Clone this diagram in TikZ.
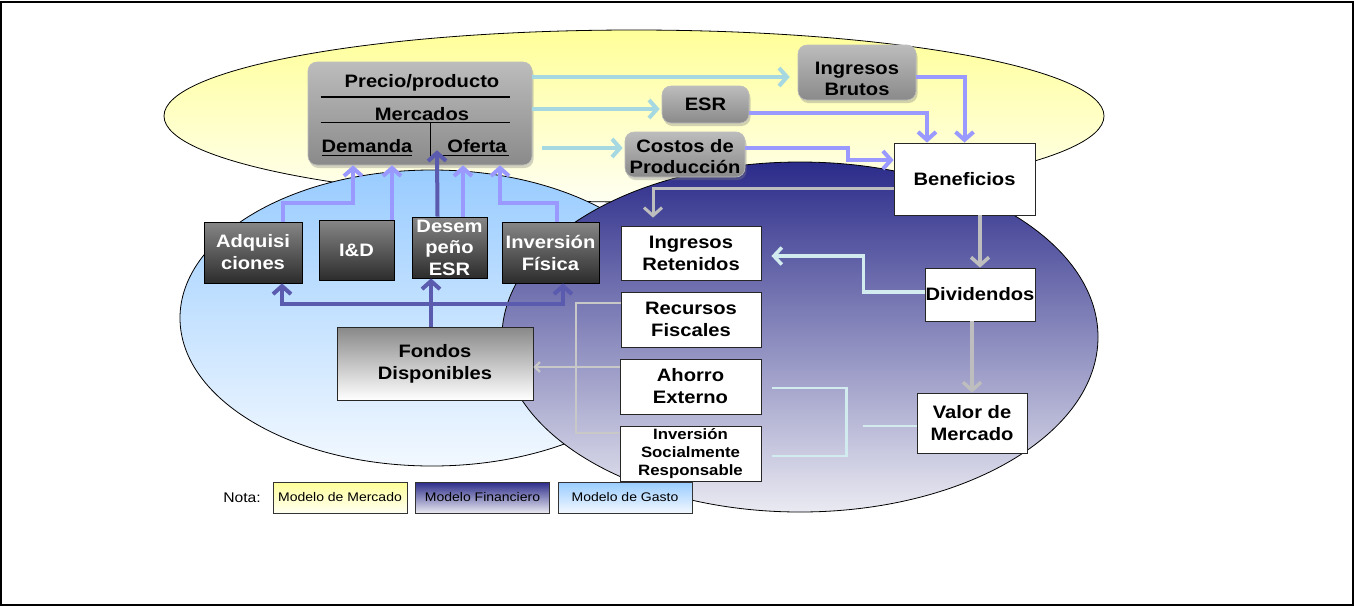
\documentclass[tikz,border=0pt]{standalone}
\usepackage{fontspec}
\setmainfont{Liberation Sans}[FakeStretch=1.12]
\usetikzlibrary{arrows.meta,calc,shadows}

\definecolor{yelTop}{HTML}{FFFF99}
\definecolor{yelBot}{HTML}{FFFFF2}
\definecolor{skyTop}{HTML}{99CCFF}
\definecolor{skyBot}{HTML}{F2F8FF}
\definecolor{navyTop}{HTML}{2B2B8A}
\definecolor{navyBot}{HTML}{EAEAF2}
\definecolor{glossTop}{HTML}{BCBCBC}
\definecolor{glossBot}{HTML}{8A8A8A}
\definecolor{darkTop}{HTML}{868686}
\definecolor{darkBot}{HTML}{2C2C2C}
\definecolor{fondTop}{HTML}{888888}
\definecolor{cyanLine}{HTML}{A6D8E2}
\definecolor{lilacLine}{HTML}{9999FF}
\definecolor{indigoLine}{HTML}{5A5AAE}
\definecolor{greyLine}{HTML}{BEBEBE}
\definecolor{paleLine}{HTML}{D2EBEE}

\begin{document}
\begin{tikzpicture}[x=1pt,y=-1pt,
  txt/.style={font=\bfseries\fontsize{18}{22}\selectfont, align=center, inner sep=0pt},
  glossbox/.style={txt, rounded corners=9pt, top color=glossTop, bottom color=glossBot,
    draw=glossTop, line width=0.6pt,
    drop shadow={opacity=0.35, shadow xshift=1.5pt, shadow yshift=-3pt}},
  darkbox/.style={txt, top color=darkTop, bottom color=darkBot, draw=black,
    line width=0.8pt, text=white},
  whitebox/.style={txt, fill=white, draw=black!85, line width=0.8pt,
    drop shadow={opacity=0.3, shadow xshift=1.2pt, shadow yshift=-1.2pt}},
  legendbox/.style={font=\fontsize{12.5}{15}\selectfont, inner sep=0pt, draw=black!80,
    line width=0.6pt, minimum width=134pt, minimum height=31pt},
  cyanarr/.style={draw=cyanLine, line width=4pt, -{Straight Barb[length=8pt,width=18pt]}},
  lilacarr/.style={draw=lilacLine, line width=4pt, -{Straight Barb[length=8pt,width=18pt]}},
  indigoarr/.style={draw=indigoLine, line width=4pt, -{Straight Barb[length=8pt,width=18pt]}},
  greyarr/.style={draw=greyLine, line width=3.5pt, -{Straight Barb[length=8pt,width=18pt]}},
  greyln/.style={draw=greyLine!85, line width=2.2pt},
  palearr/.style={draw=paleLine, line width=3.5pt, -{Straight Barb[length=8pt,width=17pt]}},
  paleln/.style={draw=paleLine, line width=2.8pt}
]
\useasboundingbox (0,0) rectangle (1354,606);
\fill[white] (0,0) rectangle (1354,606);
\draw[black, line width=2pt] (1,1.5) rectangle (1353,605);

% the three model regions
\draw[black, line width=0.8pt, top color=yelTop, bottom color=yelBot]
  (634,116) ellipse [x radius=470pt, y radius=86pt];
\draw[black, line width=0.8pt, top color=skyTop, bottom color=skyBot]
  (432,318) ellipse [x radius=252pt, y radius=148pt];
\draw[black, line width=0.8pt, top color=navyTop, bottom color=navyBot]
  (800,337) ellipse [x radius=298pt, y radius=175pt];

% market model boxes
\node[glossbox, minimum width=224pt, minimum height=103pt] (precio) at (420,113.5) {};
\node[txt] (pp) at (422,83) {Precio/producto};
\node[txt] (merc) at (422,114) {Mercados};
\node[txt] (dem) at (367,146) {Demanda};
\node[txt] (ofe) at (477,146) {Oferta};
\draw[black, line width=1.8pt] ($(precio.north west)+(13,35)$) -- ($(precio.north west)+(202,35)$);
\draw[black, line width=1.2pt] ($(precio.north west)+(13,61)$) -- ($(precio.north west)+(202,61)$);
\draw[black, line width=1.2pt] ($(precio.north west)+(123,61)$) -- ($(precio.north west)+(123,94)$);
\draw[black, line width=1.2pt] ($(precio.north west)+(14,94)$) -- ($(precio.north west)+(104,94)$);
\draw[black, line width=1.2pt] ($(precio.north west)+(134,94)$) -- ($(precio.north west)+(201,94)$);

\node[glossbox, minimum width=118pt, minimum height=55pt] (ingb) at (857,72.5) {};
\node[txt] (ingbtxt) at (857,79) {Ingresos\\[-1pt]Brutos};
\node[glossbox, minimum width=87pt, minimum height=37pt] (esr) at (705.5,104.5) {ESR};
\node[glossbox, minimum width=120pt, minimum height=45pt] (costos) at (685,154.5) {};
\node[txt] (costostxt) at (685,157) {Costos de\\[-1pt]Producción};

% financial model boxes
\node[whitebox, minimum width=141pt, minimum height=72pt] (benef) at (964.5,179) {Beneficios};
\node[whitebox, minimum width=140pt, minimum height=54pt] (ingret) at (691,253) {Ingresos\\Retenidos};
\node[whitebox, minimum width=110pt, minimum height=53pt] (divid) at (980,294.5) {Dividendos};
\node[whitebox, minimum width=140pt, minimum height=55pt] (recf) at (691,319.5) {Recursos\\Fiscales};
\node[whitebox, minimum width=141pt, minimum height=55pt] (ahorro) at (690.5,386.5) {Ahorro\\Externo};
\node[whitebox, minimum width=141pt, minimum height=55pt, font=\bfseries\fontsize{15}{18}\selectfont] (isr) at (690.5,453.5) {Inversión\\Socialmente\\Responsable};
\node[whitebox, minimum width=110pt, minimum height=60pt] (valor) at (972,423) {Valor de\\Mercado};

% spending model boxes
\node[txt, top color=fondTop, bottom color=white, draw=black!85, line width=0.8pt,
  minimum width=196pt, minimum height=73pt] (fondos) at (435,363.5) {Fondos\\Disponibles};
\node[darkbox, minimum width=98pt, minimum height=61pt] (adq) at (253,252.5) {Adquisi\\ciones};
\node[darkbox, minimum width=75pt, minimum height=60pt] (iyd) at (356.5,250) {I\&D};
\node[darkbox, minimum width=75pt, minimum height=61pt, font=\bfseries\fontsize{18}{21.5}\selectfont] (desem) at (449.5,247.5) {Desem\\peño\\ESR};
\node[darkbox, minimum width=97pt, minimum height=61pt] (invf) at (550.5,252.5) {Inversión\\Física};

% price/product feeds the market results
\draw[cyanarr, shorten >=8pt] ($(precio.east |- ingb.west)+(0,4.5)$) -- ($(ingb.west)+(0,4.5)$);
\draw[cyanarr, shorten >=2pt] ($(precio.east |- esr.west)+(0,4.5)$) -- ($(esr.west)+(0,4.5)$);
\draw[cyanarr, shorten >=2pt] ($(precio.east |- costos.west)+(10,-6.5)$) -- ($(costos.west)+(0,-6.5)$);

% market results into profits
\draw[lilacarr] ($(ingb.east)+(0,4.5)$) -| (benef.north);
\draw[lilacarr] ($(esr.east)+(0,8.5)$) -| ($(benef.north)+(-37.5,0)$);
\draw[lilacarr] ($(costos.east)+(0,-6.5)$) -| ($(benef.west)+(-46,-19)$) -- ($(benef.west)+(0,-19)$);

% spending items into the market
\draw[lilacarr] ($(adq.north)+(30,0)$) |- ($(precio.south)+(-67,38)$) -- ($(precio.south)+(-67,0)$);
\draw[lilacarr] ($(iyd.north)+(35.5,0)$) -- ($(precio.south)+(-28,0)$);
\draw[lilacarr] ($(desem.north)+(13.5,0)$) -- ($(precio.south)+(43,0)$);
\draw[lilacarr] ($(invf.north)+(6.5,0)$) |- ($(precio.south)+(80,38)$) -- ($(precio.south)+(80,0)$);
\draw[indigoarr] ($(desem.north)+(-12,0)$) -- ($(precio.south)+(17,-15)$);

% available funds into the spending items
\draw[indigoarr] ($(fondos.north)+(-4,0)$) -- ($(desem.south)+(-18.5,0)$);
\draw[indigoarr] ($(fondos.north)+(-4,-23)$) -| ($(adq.south)+(29,0)$);
\draw[indigoarr] ($(fondos.north)+(-4,-23)$) -| ($(invf.south)+(12.5,0)$);

% profit distribution
\draw[greyarr, line width=3pt, shorten >=8pt] ($(benef.west)+(0,9)$) -| ($(ingret.north)+(-38,0)$);
\draw[greyarr] ($(benef.south)+(15.5,0)$) -- (divid.north);
\draw[greyarr] ($(divid.south)+(-8,0)$) -- (valor.north);
\draw[palearr, shorten >=10pt] ($(divid.west)+(0,-2.5)$) -| ($(ingret.east)+(102,3)$) -- ($(ingret.east)+(0,3)$);

% financing sources
\draw[greyln] ($(recf.west)+(0,-16.5)$) -| ($(isr.west)+(-44,-20.5)$) -- ($(isr.west)+(0,-20.5)$);
\draw[greyln, -{Straight Barb[length=5pt,width=10pt]}] ($(ahorro.west)+(0,-19.5)$) -- ($(fondos.east)+(0,3.5)$);
\draw[paleln] ($(ahorro.east)+(11,1.5)$) -| ($(isr.east)+(85,2.5)$) -- ($(isr.east)+(11,2.5)$);
\draw[paleln] ($(valor.west)+(-54,3)$) -- ($(valor.west)+(0,3)$);

% legend
\node[font=\fontsize{14}{16}\selectfont, inner sep=0pt] (nota) at (242,498) {Nota:};
\node[legendbox, top color=yelTop, bottom color=yelBot] (legm) at (340,497.5) {Modelo de Mercado};
\node[legendbox, top color=navyTop, bottom color=navyBot] (legf) at (482.5,497.5) {Modelo Financiero};
\node[legendbox, top color=skyTop, bottom color=skyBot] (legg) at (625,497.5) {Modelo de Gasto};
\end{tikzpicture}
\end{document}
